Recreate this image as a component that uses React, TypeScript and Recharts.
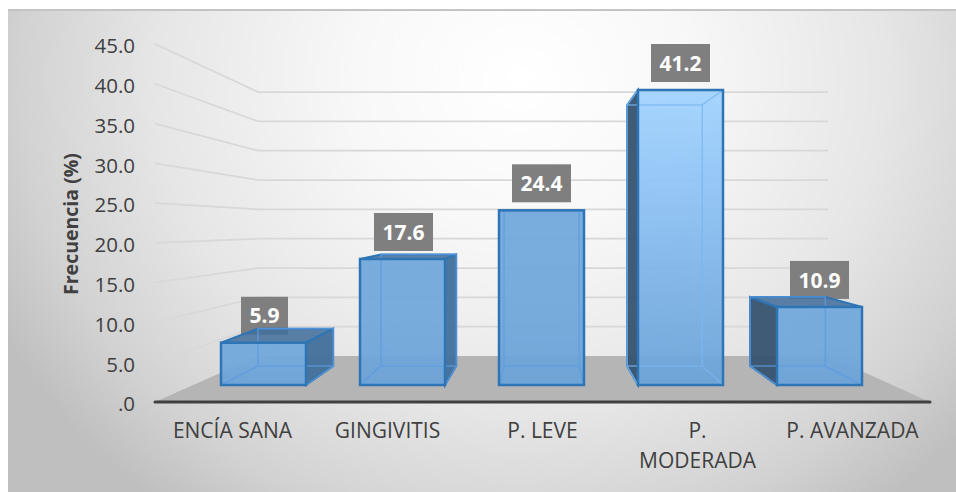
import React from 'react'
import { BarChart, Bar, CartesianGrid, XAxis, YAxis } from 'recharts'

const categories = ['ENCÍA SANA', 'GINGIVITIS', 'P. LEVE', 'P.\nMODERADA', 'P. AVANZADA']
const frequencies = [5.9, 17.6, 24.4, 41.2, 10.9]
const axisTicks = [0, 5, 10, 15, 20, 25, 30, 35, 40, 45]

const data = categories.map((category, i) => ({ category, frequency: frequencies[i] }))

const FONT = '"Open Sans", sans-serif'
const TEXT = '#404040'

// perspective of the box: back face is the front face scaled towards this point
const VANISH_X = 534.5
const VANISH_Y = 209
const DEPTH = 0.885

// the wall sits behind the axis plane, same idea but with its own numbers
const WALL_INSET = 102
const wallY = (y: number) => 345 + (y - 391) * 0.7374

const backX = (x: number) => VANISH_X + (x - VANISH_X) * DEPTH
const backY = (y: number) => VANISH_Y + (y - VANISH_Y) * DEPTH

const pts = (list: number[][]) => list.map((p) => p.join(',')).join(' ')

// each grid line bends back along the side wall, the bottom one is the floor
function WallLine({ x1, x2, y1, index }: any) {
  const wy = wallY(y1)
  const wl = x1 + WALL_INSET + 1
  const wr = x2 - WALL_INSET
  if (y1 >= 390) {
    return <polygon points={pts([[x1, y1], [wl, wy], [wr, wy], [x2, y1]])} fill="#b5b5b5" />
  }
  return (
    <polyline
      key={index}
      points={pts([[x1, y1], [wl, wy], [wr, wy]])}
      fill="none"
      stroke="#d8d8d8"
      strokeWidth={1.75}
    />
  )
}

function ValueTick({ y, payload }: any) {
  const v = payload.value
  return (
    <text x={127} y={y + 2} dy="0.36em" textAnchor="end" fontFamily={FONT} fontSize={20.5} fill={TEXT}>
      {v === 0 ? '.0' : v.toFixed(1)}
    </text>
  )
}

function CategoryTick({ x, y, payload }: any) {
  const lines = String(payload.value).split('\n')
  return (
    <text x={x} y={y} textAnchor="middle" fontFamily={FONT} fontSize={21} fill={TEXT}>
      {lines.map((line, i) => (
        <tspan key={line} x={x} dy={i === 0 ? 28 : 30}>
          {line}
        </tspan>
      ))}
    </text>
  )
}

function Box3D(props: any) {
  const { x, y, width, height, index, payload } = props
  const l = x
  const r = x + width
  const t = y
  const b = y + height
  const bl = backX(l)
  const br = backX(r)
  const bt = backY(t)
  const bb = backY(b)
  const label = payload.frequency.toFixed(1)
  const cx = x + width / 2 + (x + width / 2 < VANISH_X - 50 ? 1 : 0)
  const gradId = `front-${index}`
  const lightBar = index === 3

  const rightSide = br > r
  const leftSide = bl < l
  const topFace = bt < t

  return (
    <g>
      <defs>
        <linearGradient id={gradId} x1="0" y1="0" x2="0" y2="1">
          <stop offset="0" stopColor={lightBar ? '#a2d3ff' : '#70a8dc'} />
          <stop offset="0.45" stopColor={lightBar ? '#88bdf0' : '#70a8dc'} />
          <stop offset="1" stopColor={lightBar ? '#6aa3d8' : '#6ba3d8'} />
        </linearGradient>
      </defs>

      {/* data label sits under the box, the top face shows it through */}
      <rect x={cx - (label.length > 3 ? 29.5 : 23.5)} y={t - 46} width={label.length > 3 ? 59 : 47} height={38} fill="#7f7f7f" />
      <text x={cx} y={t - 27} dy="0.36em" textAnchor="middle" fontFamily={FONT} fontWeight={700} fontSize={21} fill="#ffffff">
        {label}
      </text>

      {rightSide && (
        <polygon points={pts([[r, t], [br, bt], [br, bb], [r, b]])} fill="#44709c" fillOpacity={0.96} stroke="#2e75b6" strokeWidth={2} />
      )}
      {leftSide && (
        <polygon points={pts([[l, t], [bl, bt], [bl, bb], [l, b]])} fill="#36536f" fillOpacity={0.95} stroke="#2e75b6" strokeWidth={2} />
      )}
      {topFace && (
        <polygon points={pts([[l, t], [bl, bt], [br, bt], [r, t]])} fill="#44709c" fillOpacity={0.88} stroke="#2e75b6" strokeWidth={2} />
      )}

      <rect x={l} y={t} width={width} height={height} fill={`url(#${gradId})`} fillOpacity={0.94} />

      {/* inner edges seen through the front */}
      <g stroke={lightBar ? '#7ab6f2' : '#5d9be0'} strokeOpacity={0.75} strokeWidth={1.5} fill="none">
        <rect x={bl} y={bt} width={br - bl} height={bb - bt} />
        <line x1={l} y1={b} x2={bl} y2={bb} />
        <line x1={r} y1={b} x2={br} y2={bb} />
        {!topFace && <line x1={l} y1={t} x2={bl} y2={bt} />}
        {!topFace && <line x1={r} y1={t} x2={br} y2={bt} />}
      </g>

      <rect x={l} y={t} width={width} height={height} fill="none" stroke="#2e75b6" strokeWidth={2.5} />
    </g>
  )
}

export default function App() {
  return (
    <div
      style={{
        position: 'absolute',
        left: 8,
        top: 9,
        width: 948,
        height: 483,
        borderTop: '2px solid #c4c4c4',
        boxSizing: 'border-box',
        background:
          'radial-gradient(ellipse 62% 112% at 54% 14%, #ffffff 0%, #f8f8f8 28%, #e6e6e6 62%, #d2d2d2 85%, #bfbfbf 100%)',
      }}
    >
      <BarChart
        width={948}
        height={481}
        data={data}
        margin={{ top: 33, left: 87, right: 26, bottom: 40 }}
      >
        <CartesianGrid
          xAxisId="labels"
          yAxisId="labels"
          vertical={false}
          horizontal={(p: any) => <WallLine {...p} />}
        />
        <YAxis
          yAxisId="labels"
          domain={[0, 45]}
          allowDataOverflow
          ticks={axisTicks}
          width={60}
          axisLine={false}
          tickLine={false}
          tick={<ValueTick />}
          interval={0}
          label={{
            value: 'Frecuencia (%)',
            content: () => (
              <text
                x={63}
                y={213}
                transform="rotate(-90 63 213)"
                dy="0.36em"
                textAnchor="middle"
                fontFamily={FONT}
                fontWeight={700}
                fontSize={19.5}
                fill={TEXT}
              >
                Frecuencia (%)
              </text>
            ),
          }}
        />
        <YAxis yAxisId="bars" hide width={0} domain={[-2.374, 47.626]} />
        <XAxis xAxisId="bars" dataKey="category" hide height={0} padding={{ left: 39, right: 41 }} />
        <XAxis
          xAxisId="labels"
          dataKey="category"
          interval={0}
          height={50}
          tickLine={false}
          tick={<CategoryTick />}
          axisLine={{ stroke: '#404040', strokeWidth: 3, strokeLinecap: 'round' }}
        />
        <Bar
          xAxisId="bars"
          yAxisId="bars"
          dataKey="frequency"
          barSize={85}
          shape={<Box3D />}
          isAnimationActive={false}
        />
      </BarChart>
    </div>
  )
}
